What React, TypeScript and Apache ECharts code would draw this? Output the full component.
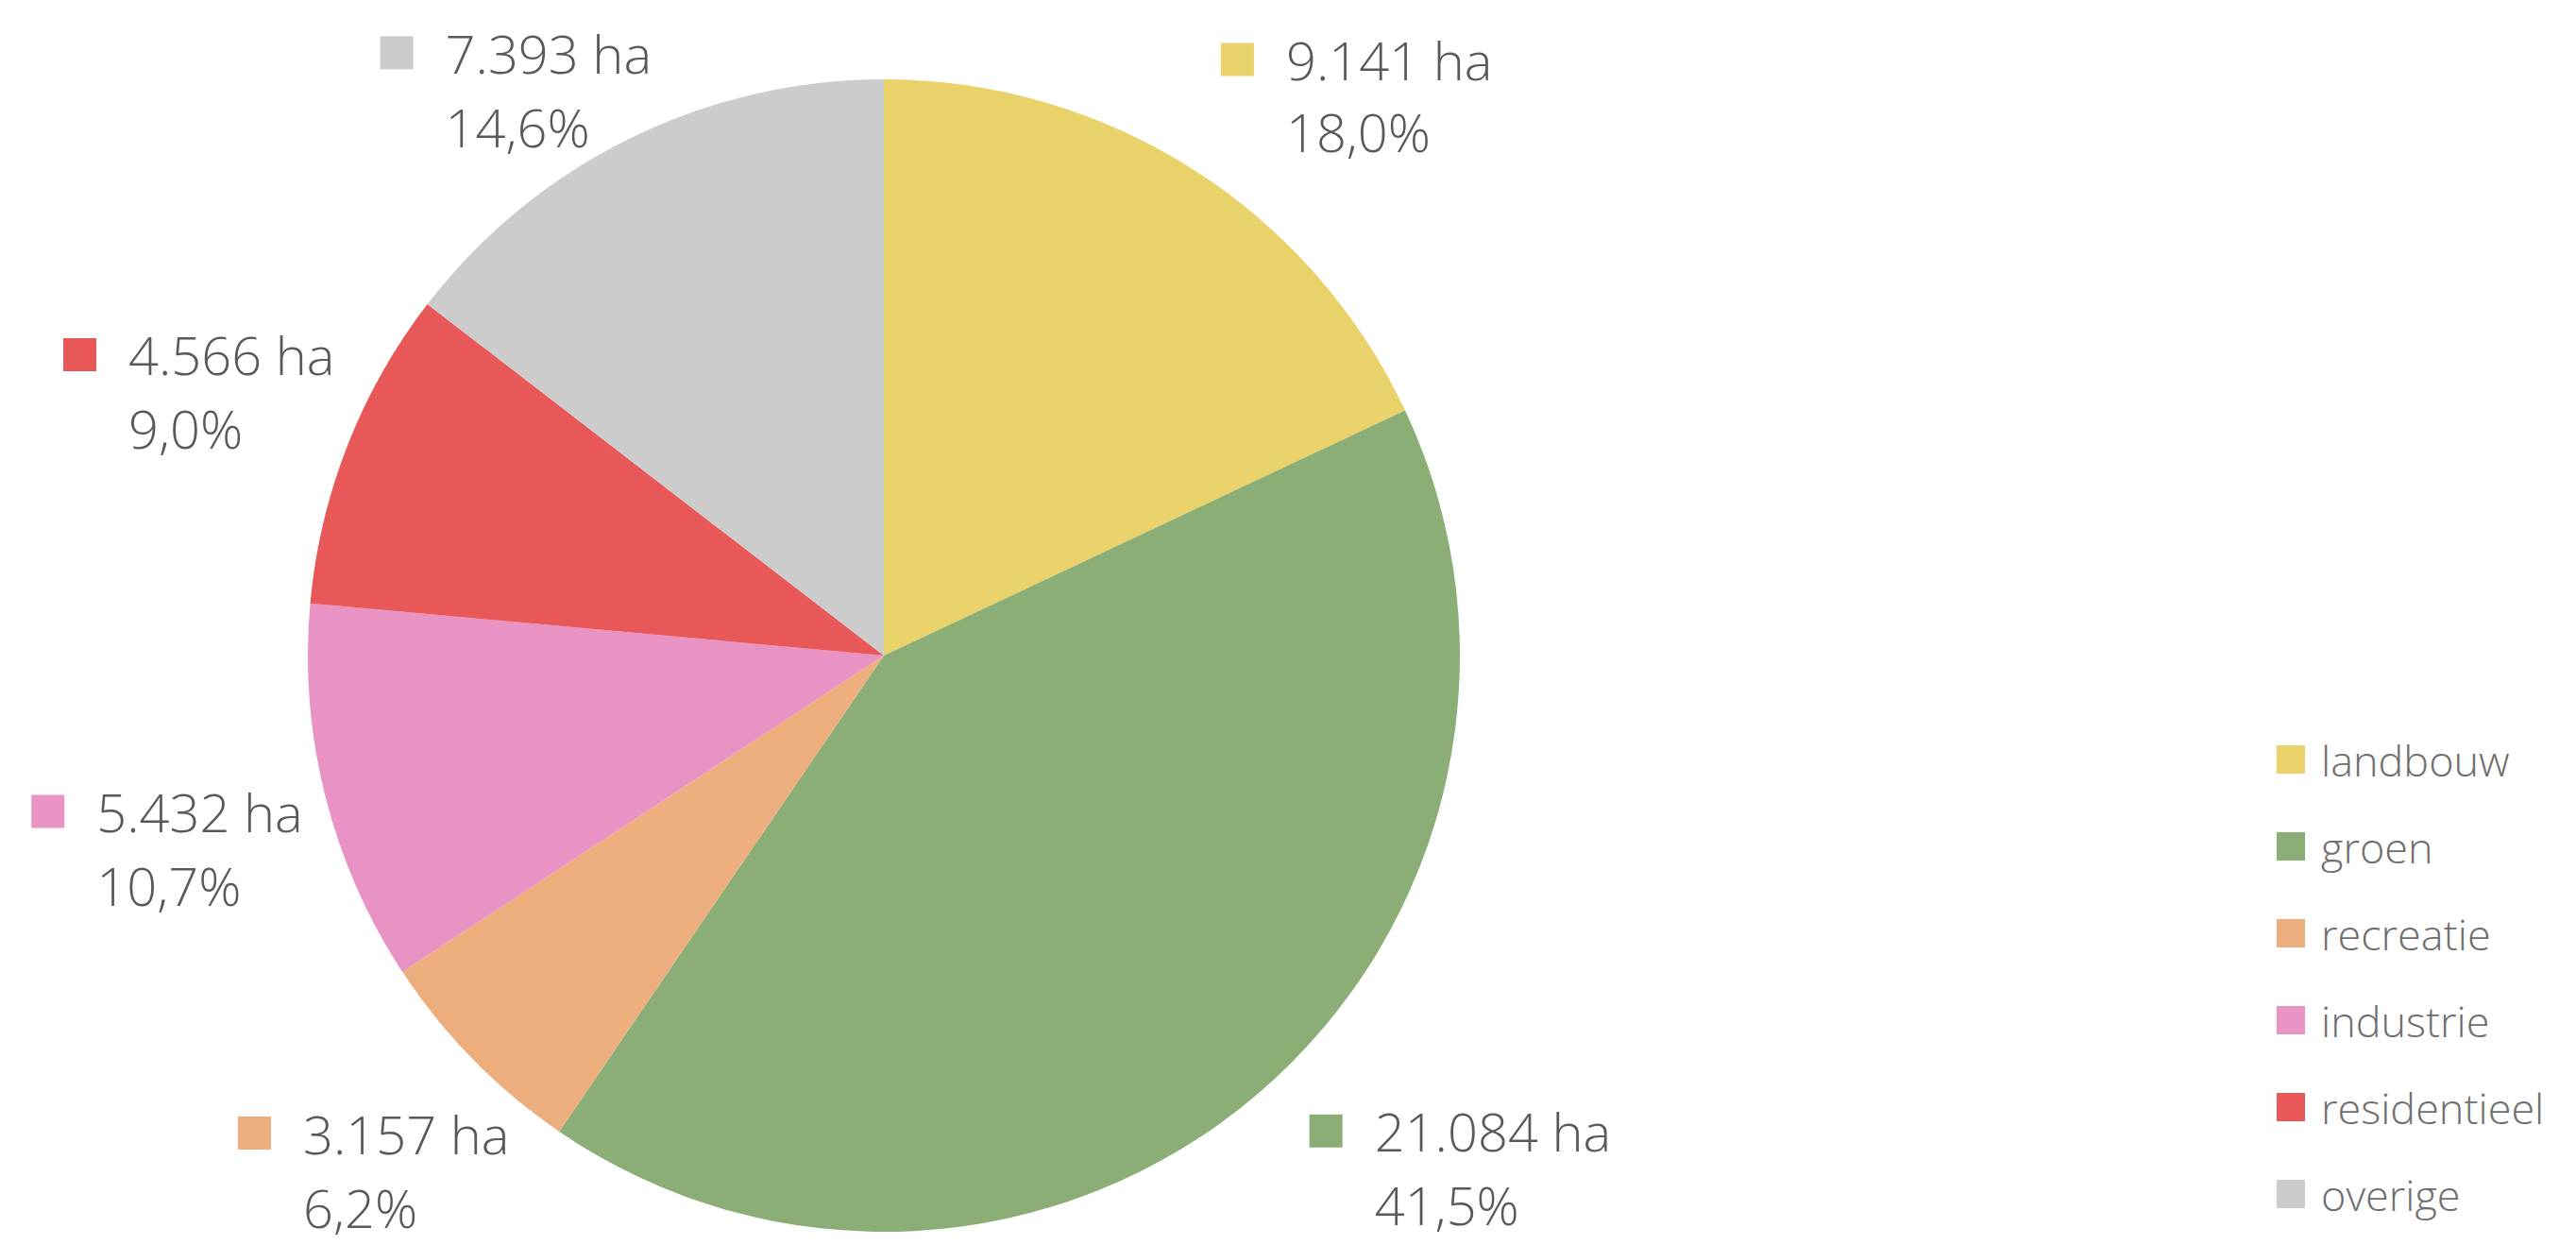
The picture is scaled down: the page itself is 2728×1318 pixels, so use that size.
import React, { useEffect, useRef } from 'react';
import * as echarts from 'echarts';

const categories = ['landbouw', 'groen', 'recreatie', 'industrie', 'residentieel', 'overige'];
const areas = [9141, 21084, 3157, 5432, 4566, 7393];
const colors = ['#E9D26A', '#8AAE75', '#ECAE7D', '#E992C4', '#E85858', '#CCCCCC'];
const labelOffsets = [
  [30, -78],
  [55, 78],
  [-249, 117],
  [-311, 56],
  [-301, -57],
  [-264, -52],
];
// line spacing of each label's two lines
const lineSpacing = [76, 78, 78, 78, 78, 78];

const FONT = '"Open Sans", "Noto Sans", sans-serif';

export default function App() {
  const ref = useRef<HTMLDivElement>(null);
  useEffect(() => {
    if (!ref.current) return;
    const chart = echarts.init(ref.current, null, { renderer: 'svg' });
    const total = areas.reduce((a, b) => a + b, 0);
    const fmtNum = (v: number) => v.toLocaleString('nl-NL');
    const fmtPct = (v: number) => ((v / total) * 100).toFixed(1).replace('.', ',');

    const rich: Record<string, any> = {
      gap: { width: 34, height: 35 },
      ind: { width: 69, height: 35 },
    };
    colors.forEach((c, i) => {
      rich['sq' + i] = { width: 35, height: 35, backgroundColor: c };
      rich['v' + i] = {
        fontFamily: FONT,
        fontSize: 56,
        fontWeight: 300,
        lineHeight: lineSpacing[i],
        color: '#595959',
      };
    });

    chart.setOption({
      animation: false,
      backgroundColor: '#ffffff',
      legend: {
        orient: 'vertical',
        left: 2406,
        top: 776,
        itemWidth: 30,
        itemHeight: 30,
        itemGap: 46,
        icon: 'rect',
        selectedMode: false,
        data: categories,
        textStyle: {
          fontFamily: FONT,
          fontSize: 45,
          lineHeight: 46,
          fontWeight: 300,
          color: '#6e6e6e',
          padding: [0, 0, 0, 12],
        },
      },
      series: [
        {
          type: 'pie',
          center: [936, 694],
          radius: 610,
          startAngle: 90,
          clockwise: true,
          avoidLabelOverlap: false,
          itemStyle: { borderWidth: 0 },
          emphasis: { disabled: true },
          label: {
            show: true,
            position: 'outside',
            distanceToLabelLine: 0,
            formatter: (p: any) => {
              const i = p.dataIndex;
              return `{sq${i}|}{gap|}{v${i}|${fmtNum(p.value)} ha}\n{ind|}{v${i}|${fmtPct(p.value)}%}`;
            },
            rich,
          },
          labelLine: { show: false, length: 0, length2: 0 },
          labelLayout: (p: any) => ({
            align: 'left',
            verticalAlign: 'middle',
            dx: labelOffsets[p.dataIndex][0],
            dy: labelOffsets[p.dataIndex][1],
          }),
          data: categories.map((name, i) => ({
            name,
            value: areas[i],
            itemStyle: { color: colors[i] },
          })),
        },
      ],
    });
    return () => chart.dispose();
  }, []);
  return (
    <div
      ref={ref}
      style={{ position: 'fixed', left: 0, top: 0, width: 2728, height: 1318, background: '#fff' }}
    />
  );
}
